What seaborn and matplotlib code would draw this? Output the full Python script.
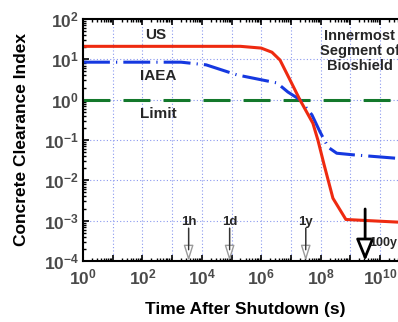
import numpy as np
import pandas as pd
import matplotlib
matplotlib.use("Agg")
import matplotlib.pyplot as plt
import matplotlib.ticker as mticker
import seaborn as sns

# ---- data ----
us_time = [1e0, 2e5, 1e6, 2.3e6, 4.3e6, 9.3e6, 2.0e7, 5.5e7, 8.1e7, 1.3e8, 2.6e8, 7.1e8, 4e10]
us_index = [21, 21, 19, 15, 9.6, 3.1, 1.0, 0.26, 0.10, 0.025, 0.0036, 0.00107, 0.00092]

iaea_time = [1e0, 2e3, 1.4e4, 1.55e5, 3.4e6, 7.9e6, 2.0e7, 5.1e7, 9.5e7, 1.8e8, 3.5e8, 1.2e9, 1e10, 4e10]
iaea_index = [8.5, 8.5, 7.3, 4.1, 2.6, 1.55, 1.0, 0.42, 0.16, 0.066, 0.047, 0.043, 0.038, 0.035]

limit_time = [1e0, 4e10]
limit_index = [1.0, 1.0]

marker_times = [3600, 86400, 3.156e7]
marker_labels = ["1h", "1d", "1y"]
century_time = 3.156e9
century_label = "100y"

series_labels = ["US", "IAEA", "Limit"]
panel_title = "Innermost\nSegment of\nBioshield"

sns.set_theme(style="ticks")
plt.rcParams["font.family"] = ["Liberation Sans", "DejaVu Sans"]
plt.rcParams["font.weight"] = "bold"
plt.rcParams["mathtext.fontset"] = "custom"
plt.rcParams["mathtext.rm"] = "Liberation Sans:bold"
plt.rcParams["mathtext.bf"] = "Liberation Sans:bold"
plt.rcParams["mathtext.it"] = "Liberation Sans:bold"

fig = plt.figure(figsize=(3.98, 3.22), dpi=100)
ax = fig.add_axes([83 / 398, 1 - 261 / 322, 1 - 83 / 398, (261 - 19) / 322])

df_us = pd.DataFrame({"t": us_time, "v": us_index})
df_iaea = pd.DataFrame({"t": iaea_time, "v": iaea_index})
df_lim = pd.DataFrame({"t": limit_time, "v": limit_index})

lw = 2.2
sns.lineplot(data=df_lim, x="t", y="v", ax=ax, color="#13782b", linewidth=lw,
             linestyle=(0, (8.8, 4.3)), estimator=None, sort=False)
sns.lineplot(data=df_iaea, x="t", y="v", ax=ax, color="#1538e0", linewidth=lw,
             linestyle=(0, (8.8, 2.0, 0.4, 2.0)), estimator=None, sort=False)
sns.lineplot(data=df_us, x="t", y="v", ax=ax, color="#ee2a10", linewidth=lw,
             estimator=None, sort=False)

ax.set_xscale("log")
ax.set_yscale("log")
ax.set_xlim(1, 10 ** 10.606)
ax.set_ylim(1e-4, 1e2)

ax.xaxis.set_major_locator(mticker.LogLocator(base=10, numticks=30))
ax.xaxis.set_minor_locator(mticker.LogLocator(base=10, subs=np.arange(2, 10), numticks=200))
ax.yaxis.set_major_locator(mticker.LogLocator(base=10, numticks=30))
ax.yaxis.set_minor_locator(mticker.LogLocator(base=10, subs=np.arange(2, 10), numticks=200))

def xfmt(v, pos):
    e = int(round(np.log10(v)))
    return r"$\mathbf{10^{%d}}$" % e if e % 2 == 0 else ""

def yfmt(v, pos):
    e = int(round(np.log10(v)))
    return r"$\mathbf{10^{%d}}$" % e

ax.xaxis.set_major_formatter(mticker.FuncFormatter(xfmt))
ax.yaxis.set_major_formatter(mticker.FuncFormatter(yfmt))
ax.xaxis.set_minor_formatter(mticker.NullFormatter())
ax.yaxis.set_minor_formatter(mticker.NullFormatter())

ax.grid(True, which="major", color="#8a98f0", linestyle=(0, (1, 2)), linewidth=0.8)
ax.tick_params(which="both", direction="in", top=True, right=False, colors="black",
               labelcolor="#4a4a4a", labelsize=12.5)
ax.tick_params(which="major", length=4, width=1.2)
ax.tick_params(which="minor", length=2.5, width=1)
ax.tick_params(axis="x", pad=5)
ax.tick_params(axis="y", pad=3)
for s in ["left", "bottom", "top"]:
    ax.spines[s].set_linewidth(1.5)
    ax.spines[s].set_color("black")
ax.spines["right"].set_visible(False)

ax.set_xlabel("Time After Shutdown (s)", fontsize=12.5, fontweight="bold", color="black")
ax.set_ylabel("Concrete Clearance Index", fontsize=12.5, fontweight="bold", color="black")
ax.xaxis.set_label_coords(0.514, -0.17)
ax.yaxis.set_label_coords(-0.17, 0.5)

# series labels
ax.text(10 ** 2.46, 10 ** 1.60, series_labels[0], ha="center", va="center", fontsize=11, fontweight="bold")
ax.text(10 ** 2.53, 10 ** 0.585, series_labels[1], ha="center", va="center", fontsize=11, fontweight="bold")
ax.text(10 ** 2.53, 10 ** -0.357, series_labels[2], ha="center", va="center", fontsize=11, fontweight="bold")

ax.text(10 ** 9.31, 10 ** 1.206, panel_title, ha="center", va="center", fontsize=10.5,
        fontweight="bold", linespacing=1.1, clip_on=False)

# time markers: dark shaft with hollow grey head
for t, lab in zip(marker_times, marker_labels):
    ax.annotate("", xy=(t, 1e-4), xytext=(t, 6.5e-4),
                arrowprops=dict(arrowstyle="-|>,head_length=0.8,head_width=0.25",
                                edgecolor="#9a9a9a", facecolor="white", lw=1.0,
                                shrinkA=0, shrinkB=0))
    ax.annotate("", xy=(t, 1.9e-4), xytext=(t, 6.5e-4),
                arrowprops=dict(arrowstyle="-", color="#333333", lw=1.0,
                                shrinkA=0, shrinkB=0))
    ax.text(t, 9.2e-4, lab, ha="center", va="center", fontsize=9.5, fontweight="bold")

ax.annotate("", xy=(century_time, 1e-4), xytext=(century_time, 1.95e-3),
            arrowprops=dict(arrowstyle="-|>,head_length=1.1,head_width=0.45",
                            edgecolor="black", facecolor="white", lw=2.0,
                            shrinkA=0, shrinkB=0))
ax.text(10 ** 9.64, 10 ** -3.55, century_label, ha="left", va="center", fontsize=9,
        fontweight="bold")

fig.savefig("out.png", dpi=100)
